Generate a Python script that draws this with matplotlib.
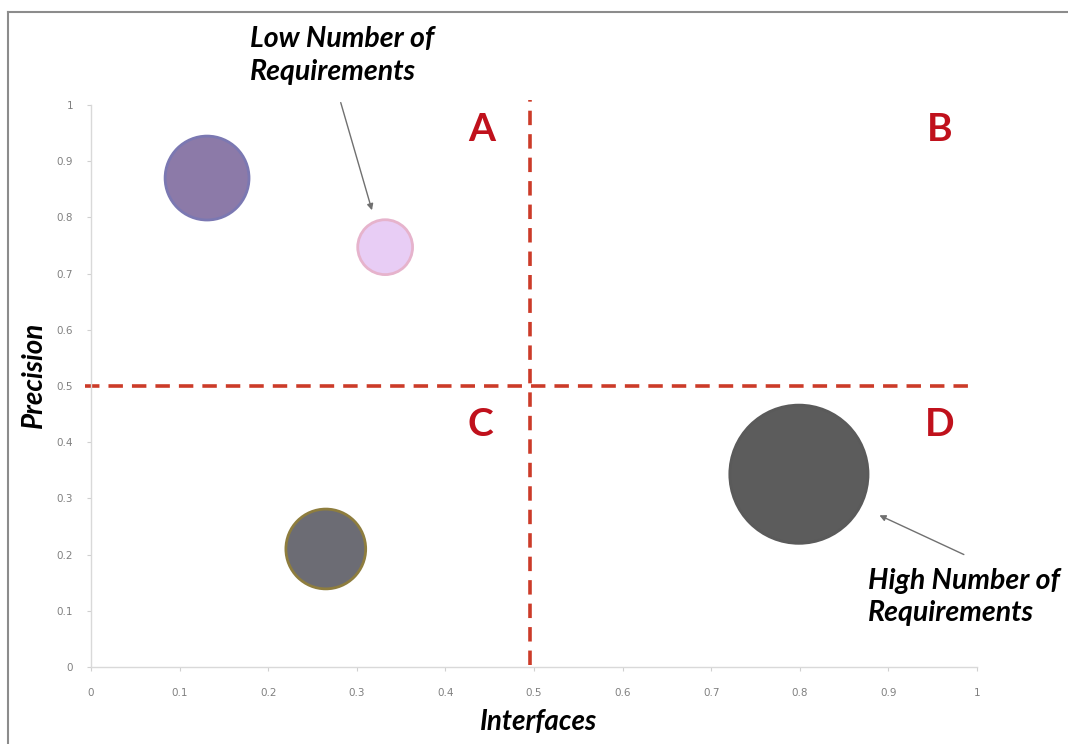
"""Bubble chart: Interfaces vs Precision with quadrants A-D."""

import matplotlib.pyplot as plt
from matplotlib.lines import Line2D

# bubble data
interfaces = [0.131, 0.332, 0.265, 0.799]
precision = [0.870, 0.747, 0.210, 0.343]
bubble_size = [3650, 1560, 3300, 9900]
fill_colors = ["#8c7aa8", "#e8cdf5", "#6c6c74", "#5c5c5c"]
edge_colors = ["#7b78b2", "#e6b3cc", "#8e7d3e", "#5a5a5a"]

threshold = 0.5
ticks = [0, 0.1, 0.2, 0.3, 0.4, 0.5, 0.6, 0.7, 0.8, 0.9, 1]
tick_labels = ["0", "0.1", "0.2", "0.3", "0.4", "0.5", "0.6", "0.7", "0.8", "0.9", "1"]

quadrants = ["A", "B", "C", "D"]
quad_x = [0.441, 0.958, 0.439, 0.958]
quad_y = [0.956, 0.956, 0.431, 0.431]

LABEL_FONT = ["Lato", "DejaVu Sans"]


def main() -> None:
    """Draw the chart."""
    fig = plt.figure(figsize=(10.68, 7.44), dpi=100)
    ax = fig.add_axes([0.0852, 0.1035, 0.8296, 0.7554])

    ax.scatter(interfaces, precision, s=bubble_size, c=fill_colors,
               edgecolors=edge_colors, linewidths=2, zorder=3)

    # quadrant lines
    ax.plot([-0.007, 0.995], [threshold, threshold], color="#cc3b29", lw=2.6,
            dashes=(4, 2.5), clip_on=False, zorder=2)
    ax.plot([threshold - 0.004, threshold - 0.004], [0.004, 1.009], color="#cc3b29",
            lw=2.6, dashes=(4, 2.5), clip_on=False, zorder=2)

    for q, qx, qy in zip(quadrants, quad_x, quad_y):
        ax.text(qx, qy, q, color="#c0111c", fontsize=28, fontweight="bold",
                family=LABEL_FONT, ha="center", va="center")

    ax.set_xlim(0, 1)
    ax.set_ylim(0, 1)
    ax.set_xticks(ticks)
    ax.set_xticklabels(tick_labels)
    ax.set_yticks(ticks)
    ax.set_yticklabels(tick_labels)
    ax.tick_params(colors="#d0d0d0", labelcolor="#808080", labelsize=7.5,
                   length=3, width=0.8)
    ax.tick_params(axis="x", pad=12)
    ax.tick_params(axis="y", pad=10)
    for side in ["top", "right"]:
        ax.spines[side].set_visible(False)
    for side in ["left", "bottom"]:
        ax.spines[side].set_color("#d9d9d9")
        ax.spines[side].set_linewidth(1)

    ax.set_xlabel("Interfaces", fontsize=20, fontweight="bold", style="italic",
                  family=LABEL_FONT)
    ax.xaxis.set_label_coords(0.505, -0.074)
    ax.set_ylabel("Precision", fontsize=20, fontweight="bold", style="italic",
                  family=LABEL_FONT)
    ax.yaxis.set_label_coords(-0.05, 0.52)

    # annotations
    ax.text(0.179, 1.088, "Low Number of\nRequirements", fontsize=20.5,
            fontweight="bold", style="italic", family=LABEL_FONT,
            ha="left", va="center", linespacing=1.3)
    ax.annotate("", xy=(0.318, 0.808), xytext=(0.281, 1.009),
                arrowprops=dict(arrowstyle="-|>", color="#707070", lw=1,
                                mutation_scale=9), annotation_clip=False)
    ax.text(0.877, 0.125, "High Number of\nRequirements", fontsize=20.5,
            fontweight="bold", style="italic", family=LABEL_FONT,
            ha="left", va="center", linespacing=1.3)
    ax.annotate("", xy=(0.887, 0.272), xytext=(0.988, 0.198),
                arrowprops=dict(arrowstyle="-|>", color="#707070", lw=1,
                                mutation_scale=9), annotation_clip=False)

    # outer frame (top and left edges)
    fig.add_artist(Line2D([8 / 1068, 1], [1 - 12 / 744, 1 - 12 / 744],
                          color="#8c8c8c", lw=1.5))
    fig.add_artist(Line2D([8 / 1068, 8 / 1068], [0, 1 - 12 / 744],
                          color="#8c8c8c", lw=1.5))

    fig.savefig("out.png", dpi=100)


if __name__ == "__main__":
    main()
